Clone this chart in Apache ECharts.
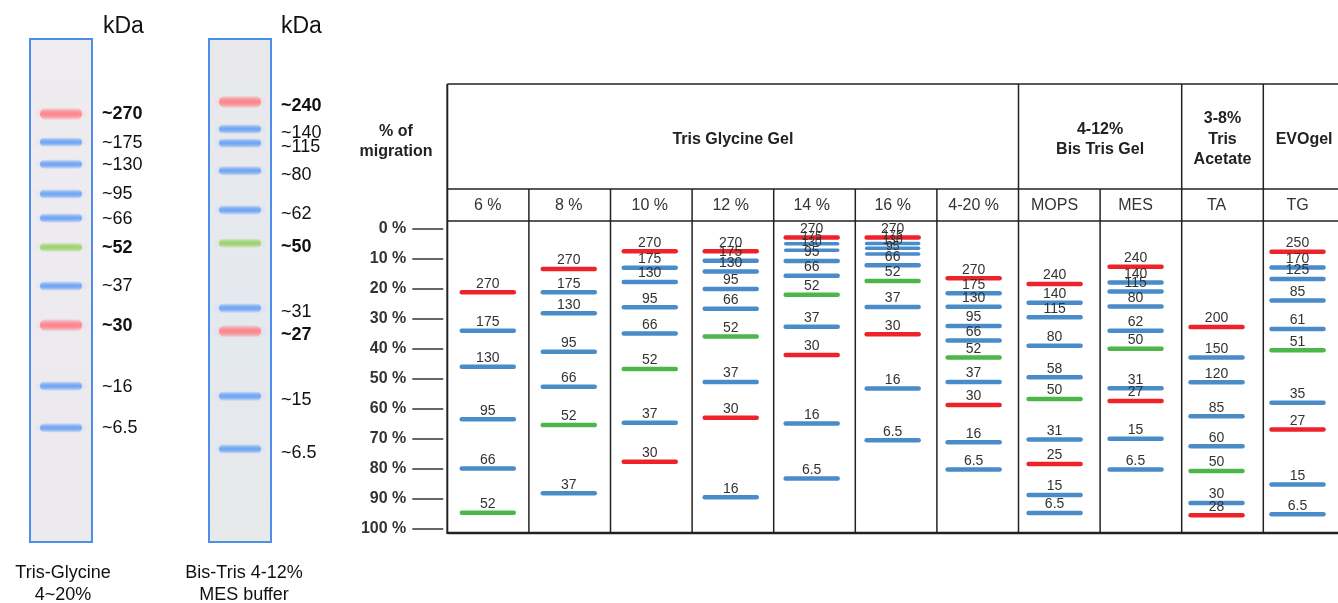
<!DOCTYPE html>
<html>
<head>
<meta charset="utf-8">
<script src="https://cdn.jsdelivr.net/npm/echarts@6/dist/echarts.min.js"></script>
<style>html,body{margin:0;padding:0;background:#fff;}#c{width:1338px;height:603px;}</style>
</head>
<body>
<div id="c"></div>
<script>
// ---------- DATA ----------
const colNames = ['6 %','8 %','10 %','12 %','14 %','16 %','4-20 %','MOPS','MES','TA','TG'];
const groupNames = ['Tris Glycine Gel','4-12%\nBis Tris Gel','3-8%\nTris\nAcetate','EVOgel'];
const groupSpans = [7, 2, 1, 1];
const yTicks = [0,10,20,30,40,50,60,70,80,90,100];

// [kDa label, % of migration, band type R=red ref, G=green ref, B=blue]
const tg6  = [['270',21.1,'R'],['175',33.9,'B'],['130',45.9,'B'],['95',63.4,'B'],['66',79.8,'B'],['52',94.6,'G']];
const tg8  = [['270',13.3,'R'],['175',21.1,'B'],['130',28.1,'B'],['95',40.9,'B'],['66',52.6,'B'],['52',65.3,'G'],['37',88.1,'B']];
const tg10 = [['270',7.4,'R'],['175',12.9,'B'],['130',17.7,'B'],['95',26.1,'B'],['66',34.8,'B'],['52',46.7,'G'],['37',64.6,'B'],['30',77.6,'R']];
const tg12 = [['270',7.4,'R'],['175',10.6,'B'],['130',14.2,'B'],['95',20.0,'B'],['66',26.6,'B'],['52',35.8,'G'],['37',51.0,'B'],['30',62.9,'R'],['16',89.4,'B']];
const tg14 = [['270',2.8,'R'],['175',4.9,'B'],['130',7.1,'B'],['95',10.7,'B'],['66',15.6,'B'],['52',21.9,'G'],['37',32.6,'B'],['30',42.0,'R'],['16',64.8,'B'],['6.5',83.2,'B']];
const tg16 = [['270',2.8,'R'],['175',4.8,'B'],['130',6.4,'B'],['95',8.3,'B'],['66',12.1,'B'],['52',17.3,'G'],['37',26.0,'B'],['30',35.1,'R'],['16',53.2,'B'],['6.5',70.4,'B']];
const tg420 = [['270',16.4,'R'],['175',21.4,'B'],['130',25.9,'B'],['95',32.3,'B'],['66',37.2,'B'],['52',42.8,'G'],['37',51.0,'B'],['30',58.7,'R'],['16',71.1,'B'],['6.5',80.2,'B']];
const mops = [['240',18.3,'R'],['140',24.6,'B'],['115',29.4,'B'],['80',38.9,'B'],['58',49.4,'B'],['50',56.7,'G'],['31',70.2,'B'],['25',78.3,'R'],['15',88.7,'B'],['6.5',94.7,'B']];
const mes  = [['240',12.6,'R'],['140',17.8,'B'],['115',20.8,'B'],['80',25.8,'B'],['62',33.9,'B'],['50',39.9,'G'],['31',53.1,'B'],['27',57.3,'R'],['15',69.9,'B'],['6.5',80.2,'B']];
const ta   = [['200',32.7,'R'],['150',42.8,'B'],['120',51.1,'B'],['85',62.4,'B'],['60',72.4,'B'],['50',80.7,'G'],['30',91.3,'B'],['28',95.4,'R']];
const evo  = [['250',7.6,'R'],['170',12.8,'B'],['125',16.7,'B'],['85',23.8,'B'],['61',33.3,'B'],['51',40.4,'G'],['35',57.9,'B'],['27',66.8,'R'],['15',85.2,'B'],['6.5',95.1,'B']];
const lanes = [tg6, tg8, tg10, tg12, tg14, tg16, tg420, mops, mes, ta, evo];

// gel photos: [label, position in lane (% of lane length), type]
const gelTrisGly = [['~270',14.9,'R'],['~175',20.5,'B'],['~130',24.9,'B'],['~95',30.8,'B'],['~66',35.6,'B'],['~52',41.4,'G'],['~37',49.1,'B'],['~30',56.9,'R'],['~16',69.0,'B'],['~6.5',77.3,'B']];
const gelBisTris = [['~240',12.5,'R'],['~140',17.9,'B'],['~115',20.7,'B'],['~80',26.2,'B'],['~62',34.0,'B'],['~50',40.6,'G'],['~31',53.5,'B'],['~27',58.1,'R'],['~15',71.0,'B'],['~6.5',81.5,'B']];
const gelCaptions = ['Tris-Glycine\n4~20%', 'Bis-Tris 4-12%\nMES buffer'];

// ---------- LAYOUT / STYLE ----------
const FONT = '"Liberation Sans", Arial, Helvetica, sans-serif';
const T_LEFT = 447.3, COL_W = 81.6, NCOL = colNames.length;
const T_RIGHT = T_LEFT + COL_W * NCOL;
const T_TOP = 84, H_DIV = 189, S_DIV = 221, T_BOT = 533;
const bandColor = {R:'#ee2229', G:'#4cb748', B:'#4a8bc9'};
const gelRGB = {R:'255,115,122', G:'140,208,85', B:'88,152,246'};

const bandData = [];
lanes.forEach((lane, c) => lane.forEach((b, i) => {
  const gap = i > 0 ? b[1] - lane[i-1][1] : 99;
  bandData.push({value:[c, b[1]], lbl:b[0], t:b[2], small: gap < 3});
}));

function gelSeries(gel, gi, labelDy) {
  return {
    type:'custom', xAxisIndex:gi, yAxisIndex:gi,
    data: gel.map(b => [0.5, b[1]]),
    encode:{x:0, y:1},
    renderItem(params, api) {
      const b = gel[params.dataIndex];
      const cs = params.coordSys;
      const p = api.coord([0.5, api.value(1)]);
      const h = b[2] === 'R' ? 13 : 10;
      const rgb = gelRGB[b[2]];
      const fill = {type:'linear', x:0, y:0, x2:0, y2:1, colorStops:[
        {offset:0, color:'rgba('+rgb+',0)'},
        {offset:0.3, color:'rgba('+rgb+',0.6)'},
        {offset:0.5, color:'rgba('+rgb+',0.8)'},
        {offset:0.7, color:'rgba('+rgb+',0.6)'},
        {offset:1, color:'rgba('+rgb+',0)'}]};
      return {type:'group', children:[
        {type:'rect', shape:{x:cs.x+10, y:p[1]-h/2, width:cs.width-20, height:h, r:h/2},
         style:{fill:fill, shadowBlur:8, shadowColor:'rgba('+rgb+',0.45)'}},
        {type:'text', x:cs.x+cs.width+10, y:p[1]+labelDy,
         style:{text:b[0], fill:'#111', font:(b[2]==='B'?'':'bold ')+'18px '+FONT,
                align:'left', verticalAlign:'middle', textAlign:'left', textVerticalAlign:'middle'}}
      ]};
    }
  };
}

// table graphics
const g = [];
const L = (x1,y1,x2,y2,w) => g.push({type:'line', shape:{x1,y1,x2,y2}, style:{stroke:'#222', lineWidth:w}, silent:true});
L(T_LEFT, T_TOP, T_RIGHT, T_TOP, 1.5);
L(T_LEFT, H_DIV, T_RIGHT, H_DIV, 1.5);
L(T_LEFT, S_DIV, T_RIGHT, S_DIV, 1.5);
L(T_LEFT, T_BOT, T_RIGHT, T_BOT, 2.5);
L(T_LEFT, T_TOP, T_LEFT, T_BOT+1, 2);
const groupEdges = [];
let acc = 0; groupSpans.forEach(s => { acc += s; groupEdges.push(acc); });
for (let i = 1; i < NCOL; i++) {
  const x = T_LEFT + i*COL_W;
  L(x, groupEdges.includes(i) ? T_TOP : H_DIV, x, T_BOT, 1.5);
}
let start = 0;
groupNames.forEach((name, k) => {
  const cx = T_LEFT + (start + groupSpans[k]/2) * COL_W;
  start += groupSpans[k];
  g.push({type:'text', x:cx, y:139.5, style:{text:name, fill:'#222', font:'bold 16px '+FONT, lineHeight:20.5,
    align:'center', verticalAlign:'middle', textAlign:'center', textVerticalAlign:'middle'}});
});
g.push({type:'text', x:396, y:142, style:{text:'% of\nmigration', fill:'#222', font:'bold 16px '+FONT, lineHeight:20,
  align:'center', verticalAlign:'middle', textAlign:'center', textVerticalAlign:'middle'}});
// gel photo texts
[103, 281].forEach(x => g.push({type:'text', x, y:27, style:{text:'kDa', fill:'#111', font:'23px '+FONT,
  align:'left', verticalAlign:'middle', textAlign:'left', textVerticalAlign:'middle'}}));
[[63, gelCaptions[0]], [244, gelCaptions[1]]].forEach(([x, t]) => g.push({type:'text', x, y:584,
  style:{text:t, fill:'#111', font:'18px '+FONT, lineHeight:22.5, align:'center', verticalAlign:'middle', textAlign:'center', textVerticalAlign:'middle'}}));

const bgTris = {type:'linear', x:0, y:0, x2:0, y2:1, colorStops:[{offset:0,color:'#efecef'},{offset:0.5,color:'#edebf0'},{offset:1,color:'#ece9ed'}]};
const bgBis = {type:'linear', x:0, y:0, x2:0, y2:1, colorStops:[{offset:0,color:'#e9e9eb'},{offset:0.6,color:'#e4e9f0'},{offset:1,color:'#e8e9e9'}]};

const option = {
  animation:false,
  backgroundColor:'#fff',
  grid:[
    {left:T_LEFT, top:229, width:COL_W*NCOL, height:300, show:false},
    {left:30, top:39, width:62, height:503, show:true, borderColor:'#4d8fe8', borderWidth:2, backgroundColor:bgTris},
    {left:209, top:39, width:62, height:503, show:true, borderColor:'#4d8fe8', borderWidth:2, backgroundColor:bgBis}
  ],
  xAxis:[
    {gridIndex:0, type:'category', data:colNames, position:'top',
     axisLine:{show:false}, axisTick:{show:false}, splitLine:{show:false},
     axisLabel:{interval:0, margin:23, verticalAlign:'middle', fontSize:16, color:'#333', fontFamily:FONT}},
    {gridIndex:1, type:'value', min:0, max:1, show:false},
    {gridIndex:2, type:'value', min:0, max:1, show:false}
  ],
  yAxis:[
    {gridIndex:0, type:'value', min:yTicks[0], max:yTicks[yTicks.length-1], interval:yTicks[1]-yTicks[0], inverse:true, offset:4,
     axisLine:{show:false}, splitLine:{show:false},
     axisTick:{show:true, length:31, lineStyle:{color:'#333', width:1.5}},
     axisLabel:{margin:37, formatter:'{value} %', fontWeight:'bold', fontSize:16, color:'#333', fontFamily:FONT}},
    {gridIndex:1, type:'value', min:0, max:100, inverse:true, show:false},
    {gridIndex:2, type:'value', min:0, max:100, inverse:true, show:false}
  ],
  series:[
    {type:'custom', xAxisIndex:0, yAxisIndex:0, data:bandData, encode:{x:0, y:1},
     renderItem(params, api) {
       const d = bandData[params.dataIndex];
       const p = api.coord([api.value(0), api.value(1)]);
       return {type:'group', children:[
         {type:'line', shape:{x1:p[0]-26, y1:p[1], x2:p[0]+26, y2:p[1]}, z2:1,
          style:{stroke:bandColor[d.t], lineWidth:d.small ? 3.5 : 4.5, lineCap:'round'}},
         {type:'text', x:p[0], y:p[1]-1.5, z2:10,
          style:{text:d.lbl, fill:'#333', font:(d.small ? '12px ' : '14px ')+FONT, align:'center', verticalAlign:'bottom', textAlign:'center', textVerticalAlign:'bottom'}}
       ]};
     }},
    gelSeries(gelTrisGly, 1, 0.5),
    gelSeries(gelBisTris, 2, 4)
  ],
  graphic:g
};
const chart = echarts.init(document.getElementById('c'), null, {renderer:'canvas'});
chart.setOption(option);
</script>
</body>
</html>
